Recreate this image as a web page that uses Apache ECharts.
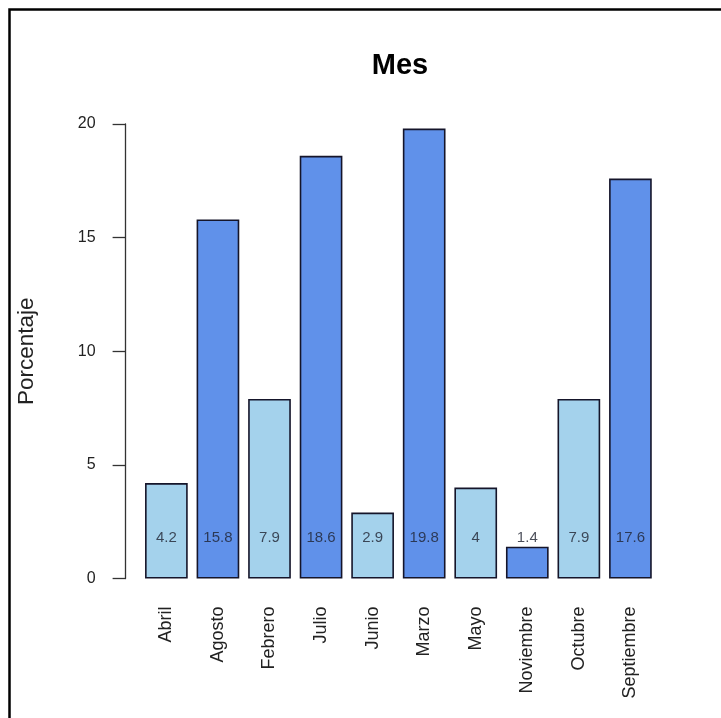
<!DOCTYPE html>
<html>
<head>
<meta charset="utf-8">
<script src="https://cdn.jsdelivr.net/npm/echarts@6/dist/echarts.min.js"></script>
<style>html,body{margin:0;padding:0;background:#fff;}#c{width:721px;height:718px;}</style>
</head>
<body>
<div id="c"></div>
<script>
var categories = ['Abril','Agosto','Febrero','Julio','Junio','Marzo','Mayo','Noviembre','Octubre','Septiembre'];
var values = [4.2, 15.8, 7.9, 18.6, 2.9, 19.8, 4, 1.4, 7.9, 17.6];
var yTicks = [0, 5, 10, 15, 20];
var labelLevel = 1.8;

var FONT = '"Liberation Sans", Arial, sans-serif';
var palette = ['#a4d2ec', '#6091ea'];

var chart = echarts.init(document.getElementById('c'), null, {renderer: 'canvas'});
chart.setOption({
  animation: false,
  backgroundColor: '#ffffff',
  grid: {left: 140.6, width: 515.6, top: 124, height: 454.5, containLabel: false},
  xAxis: {
    type: 'category',
    data: categories,
    axisLine: {show: false},
    axisTick: {show: false},
    axisLabel: {rotate: 90, margin: 28, fontSize: 18, color: '#222', fontFamily: FONT, interval: 0}
  },
  yAxis: {
    type: 'value',
    min: yTicks[0],
    max: yTicks[yTicks.length - 1],
    interval: yTicks[1] - yTicks[0],
    offset: 15,
    splitLine: {show: false},
    axisLine: {show: true, lineStyle: {color: '#333', width: 1.3}},
    axisTick: {show: true, length: 13, lineStyle: {color: '#333', width: 1.3}},
    axisLabel: {margin: 30, fontSize: 16, color: '#222', fontFamily: FONT},
    name: 'Porcentaje',
    nameLocation: 'middle',
    nameGap: 87,
    nameTextStyle: {fontSize: 22.5, color: '#222', fontFamily: FONT}
  },
  graphic: [
    {type: 'rect', silent: true, shape: {x: 9.5, y: 9.5, width: 900, height: 900},
     style: {fill: 'none', stroke: '#000', lineWidth: 2.5}},
    {type: 'text', silent: true, x: 400, y: 66,
     style: {text: 'Mes', textAlign: 'center', textVerticalAlign: 'middle',
             font: 'bold 29px "Liberation Sans", Arial, sans-serif', fill: '#000'}}
  ],
  series: [
    {
      type: 'bar',
      data: values,
      barCategoryGap: '17.2%',
      itemStyle: {
        color: function (p) { return palette[p.dataIndex % 2]; },
        borderColor: '#15152a',
        borderWidth: 1.6
      }
    },
    {
      type: 'scatter',
      symbolSize: 0,
      data: values.map(function (v, i) { return [i, labelLevel]; }),
      label: {
        show: true,
        position: 'inside',
        formatter: function (p) { return String(values[p.dataIndex]); },
        fontSize: 15,
        color: '#1e2230',
        fontFamily: FONT
      },
      z: 5
    }
  ]
});
</script>
</body>
</html>
